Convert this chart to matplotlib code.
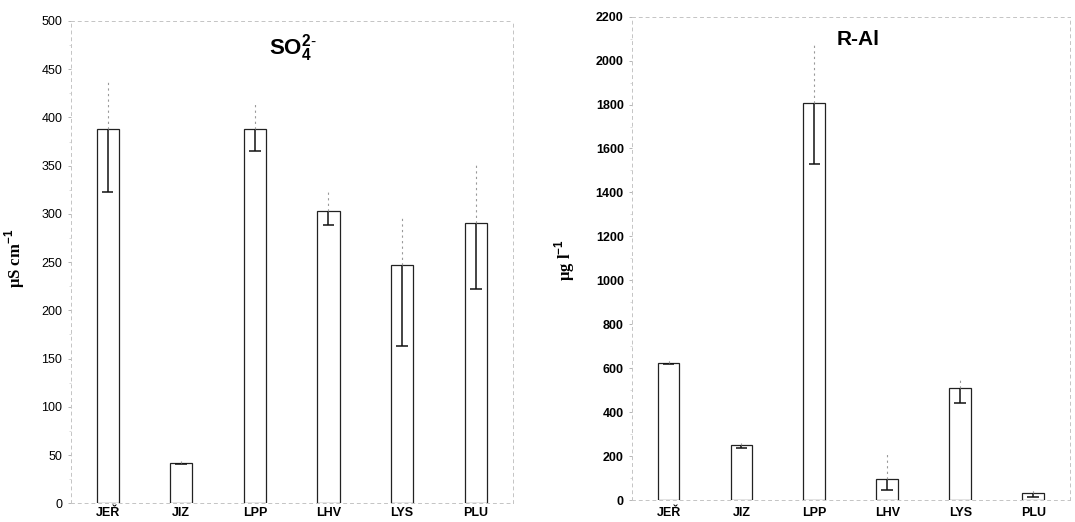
#!/usr/bin/env python3
"""
Sulphate and reactive aluminium by locality: bar charts with error whiskers.
"""

import matplotlib.pyplot as plt
from matplotlib.ticker import MultipleLocator
import numpy as np

plt.rcParams['font.family'] = ['Liberation Sans', 'DejaVu Sans']
plt.rcParams['mathtext.fontset'] = 'custom'
plt.rcParams['mathtext.rm'] = 'Liberation Sans'
plt.rcParams['mathtext.bf'] = 'Liberation Sans:bold'

# Localities
sites = ['JEŘ', 'JIZ', 'LPP', 'LHV', 'LYS', 'PLU']

# SO4 2- (µS cm-1): mean, lower whisker end, upper whisker end
so4_mean = [388, 42, 388, 303, 247, 291]
so4_low = [323, 41, 365, 289, 163, 222]
so4_high = [439, 44, 414, 326, 297, 351]

# R-Al (µg l-1): mean, lower whisker end, upper whisker end
ral_mean = [625, 249, 1808, 97, 508, 33]
ral_low = [618, 238, 1529, 46, 443, 12]
ral_high = [637, 261, 2071, 215, 554, 51]

fig = plt.figure(figsize=(10.75, 5.22), dpi=100)
ax1 = fig.add_axes([0.0658, 0.0358, 0.411, 0.924])
ax2 = fig.add_axes([0.588, 0.0421, 0.407, 0.926])


def draw_panel(ax, mean, low, high, ymax, major, tick_weight, xpad):
    x = np.arange(len(sites))
    ax.bar(x, mean, width=0.3, facecolor='white', edgecolor='#222222',
           linewidth=0.9, zorder=2)
    # lower whisker: solid line ending in a cap
    ax.vlines(x, low, mean, colors='#111111', linewidth=1.1, zorder=3)
    ax.hlines(low, x - 0.08, x + 0.08, colors='#111111', linewidth=1.1,
              zorder=3)
    # upper whisker: faint, no cap
    ax.vlines(x, mean, high, colors='#999999', linewidth=0.8,
              linestyles=(0, (2, 3)), zorder=3)

    ax.set_xlim(-0.5, len(sites) - 0.5)
    ax.set_ylim(0, ymax)
    ax.yaxis.set_major_locator(MultipleLocator(major))
    ax.yaxis.set_minor_locator(MultipleLocator(major / 2))
    ax.set_xticks(x)
    ax.set_xticklabels(sites, fontsize=9, fontweight='bold')
    ax.tick_params(axis='x', length=0, pad=xpad)
    ax.tick_params(axis='y', which='major', length=2, width=0.6,
                   color='#aaaaaa', labelsize=9, pad=4)
    ax.tick_params(axis='y', which='minor', length=1.5, width=0.5,
                   color='#cccccc')
    for lab in ax.get_yticklabels():
        lab.set_fontweight(tick_weight)
    for side in ['left', 'right', 'top', 'bottom']:
        ax.spines[side].set_color('#c4c4c4')
        ax.spines[side].set_linewidth(0.7)
        ax.spines[side].set_linestyle((0, (3, 4)))


draw_panel(ax1, so4_mean, so4_low, so4_high, 500, 50, 'normal', 3)
ax1.text(0.503, 0.944, r'$\mathbf{SO_4^{2\text{-}}}$', transform=ax1.transAxes,
         ha='center', va='center', fontsize=16)
ax1.set_ylabel('µS cm$^{\\mathbf{-1}}$', family='Liberation Serif',
               fontweight='bold', fontsize=12)
ax1.yaxis.set_label_coords(-0.099, 0.507)

draw_panel(ax2, ral_mean, ral_low, ral_high, 2200, 200, 'bold', 5)
ax2.text(0.516, 0.952, 'R-Al', transform=ax2.transAxes,
         ha='center', va='center', fontsize=15, fontweight='bold')
ax2.set_ylabel('µg l$^{\\mathbf{-1}}$', family='Liberation Serif',
               fontweight='bold', fontsize=12)
ax2.yaxis.set_label_coords(-0.126, 0.497)

fig.savefig('out.png', dpi=100, facecolor='white')
